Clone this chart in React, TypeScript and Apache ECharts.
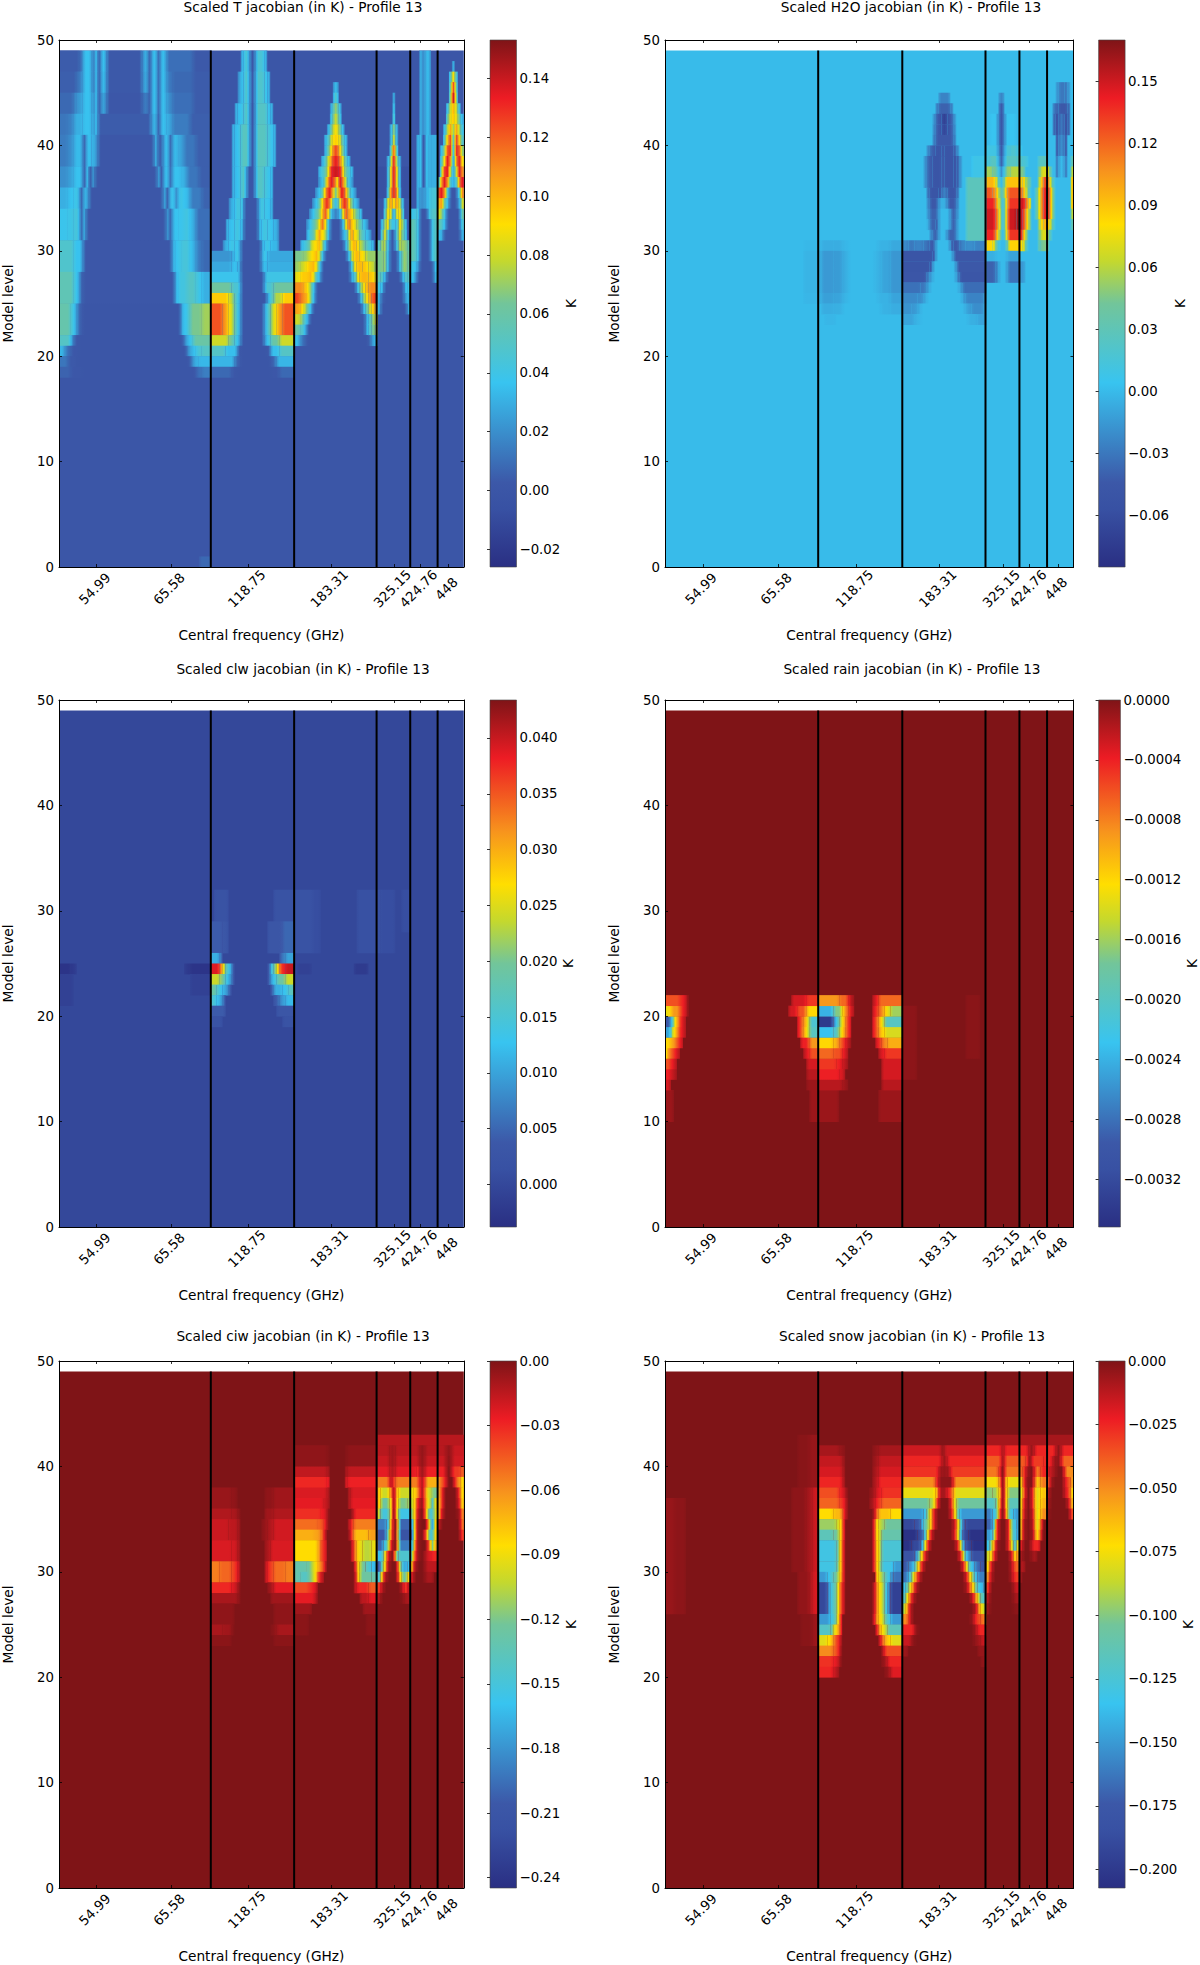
import React, { useEffect, useRef } from "react";
import * as echarts from "echarts";

const FREQ_LABELS = ["54.99", "65.58", "118.75", "183.31", "325.15", "424.76", "448"];
const FREQ_TICKS = [12.6, 37.6, 63.7, 91.4, 112.6, 121.4, 130.8];
const SEPARATORS = [51, 79, 106.7, 118, 127.2];
const BAND_EDGES = [0, 51, 79, 107, 118, 127, 136];
const CHANNELS = 136;
const TOP_LEVEL = 49;

const JET_STOPS: [number, string][] = [
  [0, "#2a2f83"], [0.11, "#3851a3"], [0.16, "#3c58a8"], [0.35, "#38c4f0"], [0.5, "#72c59a"], [0.58, "#c4d82e"],
  [0.65, "#ffde00"], [0.75, "#f7941d"], [0.89, "#ed1c24"], [1, "#7f1417"],
];

// Each patch: [lowest level row, highest level row, col, value, col, value, ..., end col]
const T_PATCHES = [
  [47,48,0,4,7,12,8,36,11,16,12,34,13,6,14,36,16,3,28,30,30,6,31,36,33,8,34,36,36,10,45,3,51],
  [45,46,0,5,6,14,8,36,11,16,12,34,13,6,14,34,16,3,28,28,30,6,31,36,33,8,34,36,36,14,38,8,45,4,51],
  [43,44,0,8,5,18,6,24,8,36,11,22,12,34,13,6,14,26,16,2,28,14,30,6,31,36,33,8,34,36,36,20,38,10,45,4,51],
  [41,42,0,12,3,16,5,30,8,36,11,26,12,34,13,4,31,32,33,6,34,36,36,28,38,14,44,5,51],
  [38,40,0,14,3,20,5,34,8,6,9,36,11,28,13,2,32,30,33,4,35,36,37,8,38,34,40,26,42,12,46,5,51],
  [36,37,0,20,3,26,5,36,8,6,9,34,10,4,11,22,12,2,33,24,34,4,35,36,37,10,38,36,41,30,43,12,47,5,51],
  [34,35,0,30,3,36,5,40,7,6,8,32,10,2,35,26,36,6,37,38,39,20,40,40,42,34,44,14,48,6,51],
  [31,33,0,38,3,40,5,44,7,8,8,28,9,2,36,22,37,8,38,36,40,38,42,42,44,30,46,10,51],
  [28,30,0,48,5,36,8,2,38,30,39,38,41,44,44,32,46,14,48,8,51],
  [25,27,0,55,5,36,7,8,8,2,39,32,40,42,43,50,46,40,48,30,51],
  [22,24,0,58,4,38,6,6,8,0,41,30,42,40,44,65,48,72,51],
  [21,21,0,50,4,20,5,2,7,0,42,20,43,36,45,60,51],
  [20,20,0,32,2,10,4,2,7,0,43,20,44,33,46,45,48,50,51],
  [19,19,0,12,3,3,6,0,44,12,45,30,47,33,51],
  [18,18,0,6,4,2,8,0,46,10,48,15,51],
  [0,0,47,8,51],
  [47,48,61,30,62,45,64,0,66,45,69,30,70],
  [44,46,60,30,62,48,64,3,66,48,69,38,70,30,71],
  [42,43,59,30,60,36,62,50,64,0,66,50,70,36,71,30,72],
  [38,41,58,30,59,36,61,52,64,0,66,52,70,40,72,30,73],
  [35,37,58,30,59,36,61,50,63,0,66,50,69,40,71,33,72],
  [33,34,57,30,59,42,61,40,62,0,67,42,69,38,71,30,72],
  [31,32,56,30,57,36,59,42,61,32,62,0,67,32,68,42,70,38,72,30,74],
  [30,30,55,30,57,40,59,38,61,0,68,32,69,40,71,33,74],
  [29,29,51,22,58,30,59,40,61,0,68,40,70,28,79],
  [28,28,51,28,58,36,60,30,61,0,68,35,70,30,79],
  [27,27,51,38,61,0,69,40,79],
  [26,26,51,62,58,46,61,0,69,46,72,62,79],
  [25,25,51,95,57,75,59,42,61,0,70,42,72,75,75,95,79],
  [22,24,51,122,55,105,57,80,59,42,61,0,69,42,71,80,73,105,75,122,79],
  [21,21,51,80,57,60,59,35,61,0,69,35,71,60,74,80,79],
  [20,20,51,50,56,35,60,5,61,0,70,5,71,35,74,50,79],
  [19,19,51,32,59,6,61,0,71,6,73,32,79],
  [18,18,51,8,58,2,60,0,71,2,74,8,79],
  [45,45,92,35,94],
  [44,44,92,50,94],
  [43,43,91,30,92,70,94,30,95],
  [42,42,91,40,92,80,94,40,95],
  [41,41,90,30,91,60,92,90,94,60,95,30,96],
  [40,40,89,30,90,50,91,80,92,95,94,80,95,50,96,30,97],
  [39,39,89,30,90,60,91,90,92,125,94,90,95,60,96,30,97],
  [38,38,88,30,89,50,90,80,91,110,92,135,94,110,95,80,96,50,97,30,98],
  [37,37,87,30,88,50,90,90,91,130,92,140,94,130,95,90,96,50,98,30,99],
  [36,36,87,30,89,70,90,110,91,135,92,120,93,90,94,135,95,110,96,70,97,30,99],
  [35,35,86,30,88,60,89,100,90,135,92,60,94,135,96,100,97,60,98,30,100],
  [34,34,85,30,87,60,88,90,89,130,91,90,92,35,94,90,95,130,97,90,98,60,99,30,101],
  [33,33,84,30,86,60,88,100,89,120,90,90,91,40,92,15,94,40,95,90,96,120,97,100,99,60,101,30,102],
  [32,32,83,30,85,60,87,90,88,115,89,90,90,40,91,0,95,40,96,90,97,115,98,90,100,60,102,30,104],
  [31,31,83,30,84,50,86,85,87,105,88,85,90,35,91,0,95,35,97,85,98,105,99,85,101,50,103,30,105],
  [30,30,81,30,82,45,84,70,85,90,87,100,88,70,89,35,90,0,96,35,97,70,98,100,100,90,101,70,103,45,105,30,106],
  [29,29,79,65,82,70,84,90,86,100,87,80,88,40,89,0,97,40,98,80,99,100,101,90,103,70,107],
  [28,28,79,70,81,80,83,95,85,100,86,85,87,50,88,0,98,50,99,90,100,100,102,95,104,80,106,70,107],
  [27,27,79,85,81,95,84,100,85,85,86,50,87,30,88,0,98,30,99,50,100,90,101,100,104,95,106,85,107],
  [26,26,79,110,82,100,83,90,84,70,85,40,86,0,100,40,101,70,102,90,103,100,104,110,107],
  [25,25,79,125,81,110,83,95,84,70,85,35,86,0,101,35,102,70,103,90,104,105,105,125,107],
  [24,24,79,105,81,95,82,80,83,60,84,35,85,0,102,35,103,60,104,80,105,95,106,105,107],
  [23,23,79,80,81,70,82,50,83,30,84,0,103,30,104,50,105,70,106,80,107],
  [22,22,79,60,81,45,83,0,103,30,104,50,105,65,106,70,107],
  [21,21,79,35,81,10,83,0,104,10,105,30,107],
  [44,44,112,30,113],
  [43,43,112,40,113],
  [42,42,112,50,113],
  [41,41,111,30,112,70,113,30,114],
  [40,40,111,30,112,85,113,30,114],
  [39,39,111,50,112,120,113,50,114],
  [38,38,110,30,111,70,112,135,113,70,114,30,115],
  [36,37,110,35,111,90,112,135,113,90,114,35,115],
  [35,37,107,-6,110],
  [35,37,115,-6,118],
  [35,35,110,40,111,110,112,130,113,110,114,40,115],
  [34,34,109,35,110,80,111,105,112,90,113,105,114,80,115,35,116],
  [33,33,109,50,110,90,111,85,112,30,113,85,114,90,115,50,116],
  [32,32,108,35,109,70,110,90,111,40,113,40,114,90,115,70,116,35,117],
  [31,31,108,50,109,85,110,50,111,0,113,50,114,85,115,60,116,40,117],
  [30,30,107,50,108,70,109,75,110,40,111,0,113,40,114,75,115,70,117,55,118],
  [28,29,107,65,109,70,110,35,111,0,114,35,115,70,117,60,118],
  [27,27,107,55,108,50,109,30,110,0,115,30,116,50,117,50,118],
  [26,26,107,40,108,35,109,0,116,35,117,40,118],
  [25,25,107,30,108,10,109,0,116,30,118],
  [24,24,107,30,108,0,117,30,118],
  [41,48,121,30,122,20,123,35,125],
  [36,40,120,30,121,35,122,0,123,35,124,30,125,30,127],
  [34,35,120,30,121,20,123,30,124,40,125,45,127],
  [33,33,118,40,120,45,121,0,124,40,125,50,127],
  [29,32,118,55,120,40,121,0,125,40,126,50,127],
  [28,28,118,40,120,25,121,0,126,35,127],
  [27,27,118,35,120,0,126,30,127],
  [47,47,132,30,133],
  [46,46,131,50,132,90,133,50,134],
  [45,45,131,60,132,125,133,60,134],
  [44,44,131,70,132,140,133,70,134],
  [43,43,130,40,131,80,132,100,133,80,134,40,135],
  [42,42,130,60,131,85,132,95,133,85,134,60,135,30,136],
  [41,41,129,35,130,75,131,105,132,70,133,105,134,75,135,40,136],
  [40,40,129,50,130,95,131,125,132,50,133,125,134,95,135,50,136],
  [39,39,128,35,129,70,130,120,131,130,132,40,133,130,134,120,135,70,136],
  [38,38,128,50,129,90,130,135,131,110,132,30,133,110,134,135,135,90,136],
  [37,37,128,70,129,125,130,135,131,80,132,30,133,80,134,135,135,110,136],
  [36,36,127,40,128,105,129,135,130,110,131,50,132,30,133,50,134,110,135,135,136],
  [35,35,127,120,128,135,129,110,130,50,131,0,134,50,135,110,136],
  [34,34,127,100,128,105,129,60,130,35,131,0,134,30,135,80,136],
  [33,33,127,85,128,70,129,40,130,0,135,60,136],
  [32,32,127,60,128,50,129,35,130,0,135,45,136],
  [31,31,127,35,128,30,129,0,135,30,136],
];

const H2O_PATCHES = [
  [30,30,46,-1,52,-6,56,-6,59,-2,61,0,71,-4,75,-8,79],
  [26,29,46,-3,52,-15,56,-14,59,-6,61,0,70,-4,72,-10,75,-16,79],
  [25,25,46,-2,52,-12,56,-10,59,-3,61,0,71,-4,75,-10,79],
  [24,24,52,-6,56,-5,59,0,72,-4,75,-6,79],
  [23,23,53,-2,57],
  [44,44,91,-25,95],
  [43,43,90,-25,91,-40,95,-25,96],
  [42,42,89,-15,90,-45,92,-70,94,-45,96,-15,97],
  [41,41,89,-20,90,-45,92,-65,94,-45,96,-20,97],
  [40,40,89,-25,90,-45,96,-25,97],
  [39,39,87,-20,88,-40,90,-50,92,-45,93,-50,96,-40,97,-20,98],
  [36,38,86,-15,87,-40,89,-50,92,-42,93,-50,96,-50,97,-40,98,-15,99],
  [35,35,87,-30,88,-50,91,-50,92,-25,94,-50,97,-30,98],
  [34,34,87,-20,88,-45,91,-5,94,-45,97,-20,98],
  [33,33,87,-15,88,-40,91,0,95,-40,97,-15,98],
  [32,32,87,-5,88,-40,90,-40,91,0,95,-40,97,-10,98],
  [31,31,88,-20,89,-40,91,0,94,-40,97,-10,98],
  [30,30,79,-22,81,-30,83,-25,86,-32,88,-45,90,0,95,-40,96,-45,98,-25,100,-20,103,-25,107],
  [29,29,79,-50,89,-45,90,0,96,-45,107],
  [28,28,79,-50,88,-45,89,0,97,-45,107],
  [27,27,79,-48,87,-30,88,-15,89,0,97,-25,98,-48,107],
  [26,26,79,-33,85,-30,87,-15,88,0,98,-15,99,-35,107],
  [25,25,79,-22,84,-20,86,-10,87,0,99,-15,100,-25,106,-20,107],
  [24,24,79,-18,82,-15,84,-8,85,0,100,-12,102,-20,106,-12,107],
  [23,23,79,-10,83,-3,85,0,101,-5,104,-10,107],
  [31,36,100,28,107],
  [37,38,102,8,107],
  [44,44,111,-25,113],
  [43,43,111,-45,113],
  [40,42,108,4,111,-50,113,4,117],
  [39,39,107,10,111,-45,113,15,115,20,117,10,119],
  [38,38,107,15,108,25,111,-40,113,25,117,25,119,15,121],
  [37,37,107,55,109,40,111,-20,113,50,115,60,118,45,120],
  [36,36,107,95,110,65,111,0,113,90,119,85,120,40,122],
  [35,35,107,125,109,110,110,90,111,45,112,30,113,90,114,125,119,95,120,60,121,15,122],
  [34,34,107,140,110,100,111,60,112,10,113,70,114,135,118,150,120,110,121,80,122],
  [32,33,107,150,110,115,111,70,112,10,113,70,114,150,117,165,119,125,120,90,121,45,122],
  [31,31,107,140,110,95,111,50,112,0,113,60,114,135,118,145,119,95,120,45,121],
  [30,30,107,85,109,75,110,30,111,0,114,85,119,70,120,20,121],
  [29,29,107,-5,110,0,114,-10,118],
  [27,28,107,-40,110,-25,111,0,114,-32,118,-15,120],
  [38,38,124,25,127],
  [37,37,124,40,125,70,127,75,128,30,129],
  [36,36,124,55,125,95,126,130,127,120,128,60,129,15,130],
  [33,35,123,25,124,70,125,110,126,150,128,90,129,30,130],
  [32,32,124,55,125,85,126,100,128,60,129,15,130],
  [31,31,124,40,125,70,127,55,128,20,129],
  [30,30,124,30,125,45,127,30,128],
  [44,45,130,-15,131,-30,133,-30,134,-15,135],
  [43,43,129,-35,131,-45,134,-35,135],
  [41,42,129,-35,130,-55,131,-30,133,-55,134,-35,135],
  [39,40,130,-45,131,-20,133,-45,134],
  [37,38,130,-30,131,0,133,-30,134],
  [38,38,135,30,136],
  [37,37,135,60,136],
  [34,36,135,90,136],
  [33,33,135,60,136],
  [32,32,135,30,136],
];

const CLW_PATCHES = [
  [24,24,0,-3,4,-2,6],
  [21,23,0,-1,5],
  [24,24,42,-2,44,-3,51],
  [22,23,44,-1,51],
  [24,24,80,-1,85],
  [24,24,99,-2,104],
  [26,31,72,2,85,1,88],
  [26,31,100,1.5,108,1,113],
  [28,31,115,1,118],
  [29,31,52,2,57],
  [26,28,51,4,55,3,57],
  [26,28,70,3,75,5,79],
  [25,25,51,11,54,6,55],
  [25,25,74,6,76,10,79],
  [24,24,51,39,54,32,55,24,56,14,58,4,59],
  [24,24,70,4,71,14,72,20,73,27,74,37,76,40,79],
  [23,23,51,24,54,20,56,11,58,4,59],
  [23,23,70,4,71,12,73,19,76,24,79],
  [22,22,51,19,53,14,55,10,57,4,58],
  [22,22,71,4,72,11,75,13,77,17,79],
  [21,21,51,15,53,11,55,5,56],
  [21,21,72,4,74,9,76,12,79],
  [20,20,51,4,56],
  [20,20,73,3,79],
  [19,19,51,2,55],
  [19,19,75,2,79],
];

const RAIN_PATCHES = [
  [10,12,0,-1,3],
  [13,13,0,-3,2],
  [14,14,0,-4,2,-2,4],
  [15,15,0,-6,2,-3,4],
  [16,16,0,-12,1,-7,3,-3,5],
  [17,17,0,-12,2,-9,4,-4,6],
  [18,18,0,-25,2,-15,3,-11,4,-7,5,-3,7],
  [19,19,0,-30,2,-20,3,-12,4,-8,5,-3,7],
  [20,20,0,-13,2,-9,5,-4,7,-1,8],
  [21,21,0,-6,5,-4,7,-1,8],
  [10,12,48,-1,58],
  [10,12,71,-1,79],
  [13,13,47,-1,51,-2,59,-1,61],
  [13,13,72,-2,79],
  [14,14,47,-2,51,-4,58,-3,60],
  [14,14,72,-3,79],
  [15,15,47,-3,51,-5,57,-4,59,-2,61],
  [15,15,72,-3,79],
  [16,16,46,-3,48,-6,51,-7,56,-6,59,-3,61],
  [16,16,71,-3,73,-5,79],
  [17,17,45,-4,48,-9,51,-12,56,-10,58,-6,60,-2,62],
  [17,17,70,-4,72,-8,74,-10,79],
  [18,18,44,-5,46,-12,48,-20,51,-23,56,-20,58,-12,60,-5,62],
  [18,18,69,-5,71,-11,73,-14,79],
  [19,19,44,-5,46,-11,48,-21,51,-34,56,-23,58,-13,60,-5,62],
  [19,19,69,-5,71,-12,73,-20,79],
  [20,20,41,-3,44,-6,47,-12,51,-24,56,-17,59,-9,61,-3,63],
  [20,20,69,-4,71,-8,73,-13,75,-16,79],
  [21,21,42,-3,47,-5,51,-9,58,-7,61,-2,63],
  [21,21,69,-3,71,-7,79],
  [14,20,79,-0.5,84],
  [16,21,100,-0.4,105],
];

const CIW_PATCHES = [
  [36,37,51,-6,58,-4,60],
  [36,37,69,-4,72,-8,79],
  [35,35,51,-12,58,-10,60,-4,61],
  [35,35,69,-8,72,-12,79],
  [33,34,51,-18,57,-15,60,-8,61],
  [33,34,68,-5,70,-12,72,-20,79],
  [31,32,51,-22,58,-20,60,-10,61],
  [31,32,69,-10,71,-22,79],
  [29,30,51,-55,54,-48,58,-35,60,-15,61],
  [29,30,69,-15,70,-35,72,-50,76,-55,79],
  [28,28,51,-30,58,-20,60,-5,61],
  [28,28,70,-8,72,-25,79],
  [27,27,51,-10,60,-4,61],
  [27,27,71,-8,79],
  [25,26,51,-4,59],
  [25,26,72,-4,79],
  [24,24,51,-10,55,-8,58,-2,59],
  [24,24,71,-3,73,-10,79],
  [23,23,51,-3,58],
  [23,23,72,-3,79],
  [40,41,79,-4,90,-2,91],
  [40,41,96,-2,97,-4,107],
  [39,39,79,-16,90,-10,91],
  [39,39,96,-10,97,-16,107],
  [38,38,79,-30,90,-25,91],
  [38,38,96,-20,97,-28,107],
  [37,37,79,-22,90,-12,91],
  [37,37,97,-12,98,-22,107],
  [36,36,79,-25,89,-15,91],
  [36,36,97,-12,98,-25,107],
  [35,35,79,-32,88,-25,90,-5,91],
  [35,35,98,-8,99,-30,107],
  [34,34,79,-50,87,-45,89,-25,90,-5,91],
  [34,34,97,-15,98,-35,99,-55,107],
  [33,33,79,-70,86,-65,88,-45,89,-15,90],
  [33,33,97,-8,98,-40,99,-75,104,-65,107],
  [31,32,79,-85,87,-60,88,-30,90],
  [31,32,98,-20,99,-55,100,-90,102,-105,105,-90,107],
  [30,30,79,-130,83,-125,85,-90,87,-55,89,-15,90],
  [30,30,99,-25,100,-80,101,-120,103,-145,105,-165,107],
  [29,29,79,-130,81,-140,84,-110,86,-70,87,-20,89],
  [29,29,99,-15,100,-75,101,-125,105,-130,107],
  [28,28,79,-40,84,-30,86,-15,87],
  [28,28,99,-15,100,-30,104,-45,107],
  [27,27,79,-25,86,-10,87],
  [27,27,101,-15,104,-25,107],
  [26,26,79,-8,85],
  [26,26,102,-8,107],
  [24,25,79,-3,84],
  [24,25,103,-3,107],
  [42,42,107,-14,136],
  [41,41,107,-14,111,-8,113,-14,121,-5,123,-14,130,-5,132,-18,136],
  [40,40,107,-18,111,-8,113,-18,121,-5,123,-18,130,-3,132,-20,136],
  [39,39,107,-25,111,-12,113,-25,120,-30,121,-8,123,-28,130,0,132,-35,135,-45,136],
  [38,38,107,-55,111,-15,112,-35,113,-55,121,-12,123,-70,128,-40,130,0,133,-55,135,-85,136],
  [37,37,107,-75,108,-100,111,-60,112,-10,113,-70,114,-100,119,-75,121,-10,123,-95,125,-120,127,-70,128,-40,129,0,134,-40,135,-85,136],
  [36,36,107,-75,108,-125,111,-85,112,-5,113,-75,114,-120,117,-110,119,-80,120,-30,121,-5,123,-90,125,-140,126,-80,128,-40,129,0,134,-30,135,-80,136],
  [35,35,107,-100,108,-150,111,-90,112,0,113,-80,114,-155,118,-120,119,-80,120,-20,121,0,123,-80,124,-150,126,-85,128,-25,129,0,134,-10,135,-55,136],
  [34,34,107,-190,110,-160,111,-70,112,0,114,-200,118,-180,119,-80,120,-10,121,0,124,-100,125,-170,126,-80,127,-20,128,0,135,-50,136],
  [33,33,107,-210,110,-130,111,-60,112,0,114,-215,118,-200,119,-85,120,-8,121,0,123,-60,124,-150,126,-80,127,0,135,-35,136],
  [32,32,107,-200,109,-140,111,-30,112,0,114,-190,119,-65,120,-8,121,0,124,-60,125,-120,126,-70,127],
  [31,31,107,-160,109,-90,110,-30,111,0,113,-130,114,-145,118,-125,119,-45,120,-8,121,0,123,-20,125,-30,127],
  [30,30,107,-210,108,-130,109,-85,110,-15,111,0,114,-100,115,-170,117,-160,118,-75,119,-15,120,0,123,-15,127],
  [29,29,107,-150,108,-75,109,-15,110,0,114,-70,115,-130,117,-80,118,-25,119,0,123,-10,126],
  [28,28,107,-35,108,-15,109,0,115,-20,116,-35,117,-15,118],
  [27,27,107,-12,108,0,115,-4,116,-10,118],
];

const SNOW_PATCHES = [
  [26,36,0,-5,3,-3,7],
  [38,42,44,-2,48,-5,51],
  [30,37,42,-3,47,-8,49,-16,51],
  [26,29,44,-4,48,-10,49,-18,51],
  [23,25,45,-2,49,-6,51],
  [41,41,51,-8,58,-4,60],
  [41,41,69,-4,71,-8,79],
  [40,40,51,-14,59,-6,60],
  [40,40,69,-6,71,-14,79],
  [39,39,51,-18,59,-8,60],
  [39,39,69,-8,71,-18,79],
  [38,38,51,-25,59,-10,60],
  [38,38,69,-10,71,-25,79],
  [37,37,51,-35,58,-20,60,-5,61],
  [37,37,68,-5,70,-20,72,-28,79],
  [36,36,51,-40,58,-28,60,-8,61],
  [36,36,68,-8,70,-28,72,-40,79],
  [35,35,51,-72,56,-62,59,-28,60,-8,61],
  [35,35,69,-8,70,-40,71,-65,75,-72,79],
  [34,34,51,-95,57,-85,58,-70,59,-25,60],
  [34,34,69,-20,70,-70,71,-90,73,-105,79],
  [33,33,51,-115,56,-105,58,-70,59,-25,60],
  [33,33,69,-20,70,-70,71,-85,72,-110,79],
  [31,32,51,-130,57,-110,58,-65,59,-20,60],
  [31,32,69,-20,70,-65,71,-85,72,-125,79],
  [30,30,51,-130,57,-105,58,-65,59,-20,60],
  [30,30,69,-20,70,-65,71,-90,72,-130,76,-150,79],
  [29,29,51,-150,54,-130,56,-105,58,-60,59,-20,60],
  [29,29,70,-60,71,-90,73,-125,75,-155,76,-165,79],
  [26,28,51,-190,54,-155,55,-120,57,-85,58,-40,59,-15,60],
  [26,28,69,-10,70,-45,71,-80,73,-125,74,-155,75,-195,79],
  [25,25,51,-150,55,-125,57,-80,58,-30,59],
  [25,25,69,-15,70,-50,71,-75,73,-120,75,-150,79],
  [24,24,51,-120,55,-110,56,-70,58,-30,59],
  [24,24,70,-20,71,-55,72,-80,74,-115,79],
  [23,23,51,-80,54,-70,56,-35,58,-12,59],
  [23,23,71,-15,72,-40,73,-65,75,-80,79],
  [22,22,51,-50,56,-35,58,-8,59],
  [22,22,72,-10,73,-35,79],
  [21,21,51,-28,56,-20,58,-4,59],
  [21,21,72,-5,74,-25,79],
  [20,20,51,-25,56,-12,58],
  [20,20,73,-4,75,-20,79],
  [41,41,79,-16,92,-5,93,-16,107],
  [40,40,79,-25,92,-6,94,-25,107],
  [39,39,79,-28,91,-10,92,-5,94,-10,95,-30,107],
  [38,38,79,-50,90,-25,91,-3,96,-50,107],
  [37,37,79,-78,90,-60,91,-8,94,-30,96,-80,107],
  [36,36,79,-105,88,-90,90,-35,91,0,95,-35,96,-80,97,-105,107],
  [35,35,79,-150,86,-135,87,-100,88,-65,89,-25,90,0,95,-25,96,-70,97,-110,98,-150,107],
  [34,34,79,-190,83,-180,85,-150,86,-105,88,-65,89,-25,90,0,96,-20,97,-65,98,-120,99,-170,100,-190,107],
  [33,33,79,-205,84,-185,86,-130,87,-75,88,-25,89,0,96,-25,97,-70,98,-130,99,-190,101,-205,107],
  [32,32,79,-205,82,-190,85,-150,86,-85,87,-30,88,0,97,-25,98,-80,99,-150,100,-190,102,-205,107],
  [31,31,79,-180,83,-160,84,-110,85,-70,86,-25,87,0,98,-30,99,-90,100,-150,102,-185,107],
  [30,30,79,-175,81,-150,83,-105,84,-65,85,-25,86,0,99,-30,100,-75,101,-130,103,-165,105,-180,107],
  [29,29,79,-165,81,-125,82,-90,83,-50,84,-20,85,0,100,-25,101,-65,102,-100,103,-135,104,-160,107],
  [28,28,79,-140,80,-115,81,-85,82,-50,83,-15,84,0,100,-10,101,-40,102,-70,103,-105,104,-135,106,-150,107],
  [27,27,79,-125,80,-85,81,-45,82,-15,83,0,102,-20,103,-50,104,-90,105,-120,107],
  [26,26,79,-95,80,-60,81,-20,82,0,103,-15,104,-50,105,-85,107],
  [25,25,79,-50,81,-20,82,0,102,-8,103,-30,105,-45,107],
  [24,24,79,-25,83,-5,84,0,103,-10,104,-25,107],
  [23,23,79,-15,82,-4,83,0,103,-6,105,-15,107],
  [22,22,79,-6,81],
  [22,22,104,-5,107],
  [21,21,105,-4,107],
  [42,42,107,-8,136],
  [41,41,107,-25,112,-10,113,-25,121,-5,123,-25,130,-3,132,-25,136],
  [40,40,107,-38,112,-5,113,-38,120,-28,121,-3,122,-30,126,-25,129,-8,130,-3,132,-40,136],
  [39,39,107,-45,111,-25,112,0,113,-45,119,-30,120,-10,121,0,123,-45,125,-25,128,-10,130,0,133,-50,136],
  [38,38,107,-75,111,-45,112,0,113,-60,114,-78,118,-70,119,-30,120,-5,121,0,123,-65,125,-45,128,-10,129,0,133,-30,135,-55,136],
  [37,37,107,-100,109,-95,111,-60,112,0,113,-60,114,-100,118,-85,119,-40,120,0,122,-30,123,-80,125,-65,127,-15,128,0,133,-25,135,-70,136],
  [36,36,107,-120,110,-100,111,-50,112,0,113,-60,114,-115,118,-75,119,-25,120,0,122,-30,123,-80,125,-60,127,-10,128,0,134,-20,135,-60,136],
  [35,35,107,-160,109,-125,111,-30,112,0,113,-45,114,-125,116,-150,118,-70,119,-20,120,0,122,-20,123,-80,125,-50,127,-5,128,0,135,-35,136],
  [34,34,107,-170,109,-125,110,-30,111,0,114,-30,115,-125,117,-150,118,-65,119,-10,120,0,122,-15,123,-80,125,-20,126],
  [33,33,107,-150,109,-100,110,-30,111,0,114,-30,115,-120,117,-150,118,-60,119,-10,120,0,122,-10,123,-70,125,-10,126],
  [32,32,107,-135,108,-100,109,-55,110,-10,111,0,114,-30,115,-80,116,-125,117,-75,118,-25,119,0,122,-25,125],
  [31,31,107,-85,108,-75,109,-30,110,0,115,-25,116,-70,117,-50,118,-10,119,0,122,-8,124],
  [30,30,107,-70,108,-25,109,0,115,-15,116,-40,118,-10,120],
  [29,29,107,-50,108,-15,109,0,115,-12,116,-30,118,-6,119],
  [28,28,107,-30,108,0,116,-15,118],
  [27,27,107,-12,108,0,116,-8,118],
  [26,26,107,-6,108,0,116,-3,118],
];

const T_TICKS = [-0.02, 0, 0.02, 0.04, 0.06, 0.08, 0.1, 0.12, 0.14];
const H2O_TICKS = [-0.06, -0.03, 0, 0.03, 0.06, 0.09, 0.12, 0.15];
const CLW_TICKS = [0, 0.005, 0.01, 0.015, 0.02, 0.025, 0.03, 0.035, 0.04];
const RAIN_TICKS = [-0.0032, -0.0028, -0.0024, -0.002, -0.0016, -0.0012, -0.0008, -0.0004, 0];
const CIW_TICKS = [-0.24, -0.21, -0.18, -0.15, -0.12, -0.09, -0.06, -0.03, 0];
const SNOW_TICKS = [-0.2, -0.175, -0.15, -0.125, -0.1, -0.075, -0.05, -0.025, 0];

const PANELS = [
  { title: "Scaled T jacobian (in K) - Profile 13", patches: T_PATCHES, scale: 0.001, vmin: -0.026, vmax: 0.1531, ticks: T_TICKS, decimals: 2, kGap: 46, left: 55.3, top: 40, titleX: 303, titleY: 0 },
  { title: "Scaled H2O jacobian (in K) - Profile 13", patches: H2O_PATCHES, scale: 0.001, vmin: -0.0852, vmax: 0.1702, ticks: H2O_TICKS, decimals: 2, kGap: 46, left: 665, top: 40, titleX: 911, titleY: 0 },
  { title: "Scaled clw jacobian (in K) - Profile 13", patches: CLW_PATCHES, scale: 0.001, vmin: -0.0038, vmax: 0.0434, ticks: CLW_TICKS, decimals: 3, kGap: 43, left: 55.3, top: 700, titleX: 303, titleY: 662 },
  { title: "Scaled rain jacobian (in K) - Profile 13", patches: RAIN_PATCHES, scale: 0.0001, vmin: -0.00352, vmax: 0, ticks: RAIN_TICKS, decimals: 4, kGap: 64, left: 665, top: 700, titleX: 912, titleY: 662 },
  { title: "Scaled ciw jacobian (in K) - Profile 13", patches: CIW_PATCHES, scale: 0.001, vmin: -0.2448, vmax: 0, ticks: CIW_TICKS, decimals: 2, kGap: 47, left: 55.3, top: 1361, titleX: 303, titleY: 1329 },
  { title: "Scaled snow jacobian (in K) - Profile 13", patches: SNOW_PATCHES, scale: 0.001, vmin: -0.2073, vmax: 0, ticks: SNOW_TICKS, decimals: 3, kGap: 56, left: 665, top: 1361, titleX: 912, titleY: 1329 },
];

const FONT = "DejaVu Sans";
const PLOT_W = 408.5;
const PLOT_H = 527;
const BAR_X_LEFT = 490;
const BAR_X_RIGHT = 1098.6;
const BAR_W = 26.5;

function hexToRgb(h: string) {
  return [parseInt(h.slice(1, 3), 16), parseInt(h.slice(3, 5), 16), parseInt(h.slice(5, 7), 16)];
}
function jet(f: number) {
  const t = Math.max(0, Math.min(1, f));
  for (let i = 1; i < JET_STOPS.length; i++) {
    if (t <= JET_STOPS[i][0]) {
      const [a, ca] = JET_STOPS[i - 1];
      const [b, cb] = JET_STOPS[i];
      const k = (t - a) / (b - a);
      const A = hexToRgb(ca);
      const B = hexToRgb(cb);
      return `rgb(${A.map((c, j) => Math.round(c + (B[j] - c) * k)).join(",")})`;
    }
  }
  return JET_STOPS[JET_STOPS.length - 1][1];
}

// Cell tuple: x0, x1, y0, y1, value, value at left edge (blended), value at right edge (blended)
function cellsOf(patches: number[][], scale: number) {
  const cells: number[][] = [[0, CHANNELS, 0, TOP_LEVEL, 0, 0, 0]];
  for (const p of patches) {
    const last = p.length - 1;
    for (let i = 2; i + 2 <= last; i += 2) {
      const v = p[i + 1];
      const prev = i > 2 ? p[i - 1] : BAND_EDGES.includes(p[2]) ? v : 0;
      const next = i + 2 < last ? p[i + 3] : BAND_EDGES.includes(p[last]) ? v : 0;
      const left = BAND_EDGES.includes(p[i]) ? v : (prev + v) / 2;
      const right = BAND_EDGES.includes(p[i + 2]) ? v : (v + next) / 2;
      cells.push([p[i], p[i + 2], p[0], p[1] + 1, v * scale, left * scale, right * scale]);
    }
  }
  return cells;
}

function buildOption() {
  const grid: any[] = [], xAxis: any[] = [], yAxis: any[] = [], series: any[] = [], title: any[] = [];
  const tickStyle = { inside: true, length: 3, lineStyle: { color: "#000", width: 0.8 } };
  const lineStyle = { lineStyle: { color: "#000", width: 1 } };
  const labelStyle = { fontFamily: FONT, fontSize: 13.3, color: "#000" };
  const nameStyle = { fontFamily: FONT, fontSize: 13.7, color: "#000" };

  PANELS.forEach((p) => {
    title.push({
      text: p.title, left: p.titleX, top: p.titleY, textAlign: "center", padding: 0,
      textStyle: { fontFamily: FONT, fontSize: 13.7, fontWeight: "normal", color: "#000" },
    });
    const plotGrid = grid.length;
    grid.push({ left: p.left, top: p.top, width: PLOT_W, height: PLOT_H, show: true, backgroundColor: "#fff", borderWidth: 0 });
    const barGrid = grid.length;
    grid.push({ left: p.left < 600 ? BAR_X_LEFT : BAR_X_RIGHT, top: p.top, width: BAR_W, height: PLOT_H });

    const xBottom = xAxis.length;
    xAxis.push({
      gridIndex: plotGrid, type: "value", min: 0, max: CHANNELS, position: "bottom", z: 6, splitLine: { show: false },
      axisLine: { show: true, onZero: false, ...lineStyle },
      axisTick: { ...tickStyle, customValues: FREQ_TICKS },
      axisLabel: {
        ...labelStyle, customValues: FREQ_TICKS, rotate: 45, align: "center", verticalAlign: "middle", margin: 20,
        padding: [0, 5, 0, 0],
        formatter: (v: number) => FREQ_LABELS[FREQ_TICKS.indexOf(v)] ?? "",
      },
      name: "Central frequency (GHz)", nameLocation: "middle", nameGap: 61,
      nameTextStyle: { ...nameStyle },
    });
    xAxis.push({
      gridIndex: plotGrid, type: "value", min: 0, max: CHANNELS, position: "top", z: 6, splitLine: { show: false },
      axisLine: { show: true, onZero: false, ...lineStyle },
      axisTick: { ...tickStyle, customValues: FREQ_TICKS }, axisLabel: { show: false },
    });
    const yLeft = yAxis.length;
    yAxis.push({
      gridIndex: plotGrid, type: "value", min: 0, max: 50, interval: 10, position: "left", z: 6, splitLine: { show: false },
      axisLine: { show: true, onZero: false, ...lineStyle }, axisTick: { ...tickStyle },
      axisLabel: { ...labelStyle, margin: 5 },
      name: "Model level", nameLocation: "middle", nameGap: 44, nameTextStyle: { ...nameStyle },
    });
    yAxis.push({
      gridIndex: plotGrid, type: "value", min: 0, max: 50, interval: 10, position: "right", z: 6, splitLine: { show: false },
      axisLine: { show: true, onZero: false, ...lineStyle }, axisTick: { ...tickStyle }, axisLabel: { show: false },
    });
    const range = p.vmax - p.vmin;
    const col = (v: number) => jet((v - p.vmin) / range);
    series.push({
      type: "custom", xAxisIndex: xBottom, yAxisIndex: yLeft, clip: true, silent: true, z: 2,
      dimensions: ["x0", "x1", "y0", "y1", "v", "vl", "vr"], encode: { x: [0, 1], y: [2, 3] },
      data: cellsOf(p.patches, p.scale),
      renderItem: (_: any, api: any) => {
        const x0 = api.value(0), x1 = api.value(1);
        const a = api.coord([x0, api.value(3)]);
        const b = api.coord([x1, api.value(2)]);
        const v = api.value(4), vl = api.value(5), vr = api.value(6);
        const w = x1 - x0;
        const o = Math.min(0.5, 1 / w);
        const flat = vl === v && vr === v;
        const fill = flat
          ? col(v)
          : new echarts.graphic.LinearGradient(0, 0, 1, 0, [
              { offset: 0, color: col(vl) },
              { offset: o / 2, color: col((vl + v) / 2) },
              { offset: o, color: col(v) },
              { offset: 1 - o, color: col(v) },
              { offset: 1 - o / 2, color: col((vr + v) / 2) },
              { offset: 1, color: col(vr) },
            ]);
        return {
          type: "rect",
          shape: { x: a[0], y: a[1], width: b[0] - a[0], height: b[1] - a[1] + 0.4 },
          style: { fill },
        };
      },
    });
    SEPARATORS.forEach((x) => {
      series.push({
        type: "line", xAxisIndex: xBottom, yAxisIndex: yLeft, silent: true, symbol: "none", z: 4,
        lineStyle: { color: "#000", width: 2 }, data: [[x, 0], [x, TOP_LEVEL]],
      });
    });

    const xBar = xAxis.length;
    xAxis.push({ gridIndex: barGrid, type: "value", min: 0, max: 1, show: false });
    const yBar = yAxis.length;
    const labelOf = (v: number) => {
      const s = Math.abs(v).toFixed(p.decimals);
      return v < 0 ? "\u2212" + s : s;
    };
    yAxis.push({
      gridIndex: barGrid, type: "value", min: p.vmin, max: p.vmax, position: "right", z: 6, splitLine: { show: false },
      axisLine: { show: false },
      axisTick: { ...tickStyle, customValues: p.ticks },
      axisLabel: { ...labelStyle, customValues: p.ticks, margin: 3, formatter: labelOf },
      name: "K", nameLocation: "middle", nameGap: p.kGap, nameRotate: 90, nameTextStyle: { ...nameStyle },
    });
    series.push({
      type: "custom", xAxisIndex: xBar, yAxisIndex: yBar, silent: true, z: 2,
      dimensions: ["x0", "x1", "y0", "y1"], encode: { x: [0, 1], y: [2, 3] },
      data: [[0, 1, p.vmin, p.vmax]],
      renderItem: (_: any, api: any) => {
        const a = api.coord([api.value(0), api.value(3)]);
        const b = api.coord([api.value(1), api.value(2)]);
        return {
          type: "rect",
          shape: { x: a[0], y: a[1], width: b[0] - a[0], height: b[1] - a[1] },
          style: {
            stroke: "#444", lineWidth: 0.6,
            fill: new echarts.graphic.LinearGradient(0, 1, 0, 0, JET_STOPS.map(([offset, color]) => ({ offset, color }))),
          },
        };
      },
    });
  });

  return { animation: false, backgroundColor: "#fff", title, grid, xAxis, yAxis, series };
}

export default function App() {
  const ref = useRef<HTMLDivElement>(null);
  useEffect(() => {
    const chart = echarts.init(ref.current!, null, { renderer: "svg" });
    chart.setOption(buildOption() as any);
    return () => chart.dispose();
  }, []);
  return <div ref={ref} style={{ position: "absolute", left: 0, top: 0, width: 1200, height: 1965 }} />;
}
